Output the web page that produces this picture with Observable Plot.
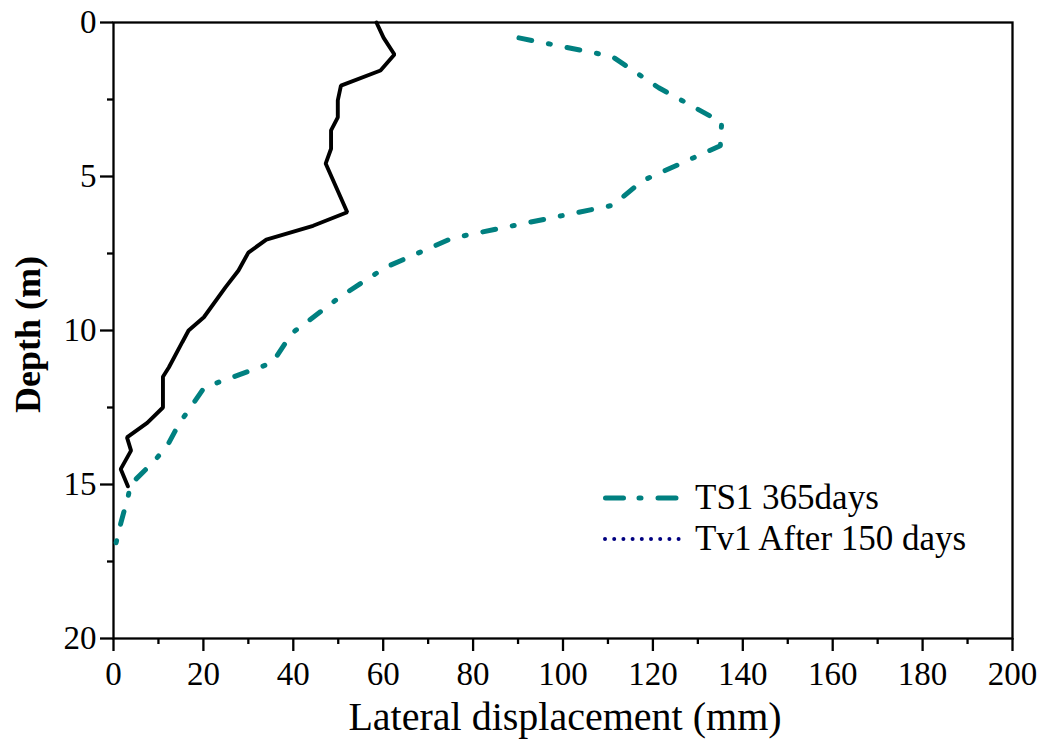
<!DOCTYPE html>
<html>
<head>
<meta charset="utf-8">
<script src="https://cdn.jsdelivr.net/npm/d3@7"></script>
<script src="https://cdn.jsdelivr.net/npm/@observablehq/plot@0.6"></script>
<style>
  html, body { margin: 0; padding: 0; background: #fff; }
  #wrap { position: relative; width: 1040px; height: 740px; }
  #legend { position: absolute; left: 0; top: 0; pointer-events: none; }
</style>
</head>
<body>
<div id="wrap"></div>
<script>
// Black solid profile (no legend entry)
const blackDisp  = [58.5, 60.1, 62.5, 59.4, 50.6, 49.9, 49.9, 48.4, 48.4, 47.2, 52.0, 44.4, 34.0, 30.0, 27.8, 24.9, 20.1, 16.7, 15.3, 12.3, 11.0, 11.0, 7.5, 3.0, 3.9, 1.6, 3.2];
const blackDepth = [0, 0.5, 1.04, 1.56, 2.05, 2.53, 3.08, 3.5, 4.1, 4.58, 6.16, 6.6, 7.05, 7.47, 8.05, 8.6, 9.57, 10.0, 10.38, 11.2, 11.5, 12.5, 13.0, 13.47, 13.9, 14.5, 15.06];

// TS1 365days (teal dash-dot)
const tealDisp  = [90.2, 110.9, 121.3, 135.3, 135.0, 117.5, 111.2, 75.4, 60.5, 50.5, 39.6, 35.4, 20.2, 14.5, 12.0, 9.3, 3.8, 3.3, 1.6, 0.4];
const tealDepth = [0.5, 1.1, 2.12, 3.24, 4.0, 5.15, 5.93, 7.0, 7.95, 8.9, 10.1, 11.04, 11.85, 13.05, 13.73, 14.2, 15.0, 15.36, 16.27, 17.0];

const xMajor = [0, 20, 40, 60, 80, 100, 120, 140, 160, 180, 200];
const xMinor = [10, 30, 50, 70, 90, 110, 130, 150, 170, 190];
const yMajor = [0, 5, 10, 15, 20];
const yMinor = [2.5, 7.5, 12.5, 17.5];

const legendLabels = ["TS1 365days", "Tv1 After 150 days"];

const black = blackDisp.map((v, i) => ({x: v, y: blackDepth[i]}));
const teal = tealDisp.map((v, i) => ({x: v, y: tealDepth[i]}));

const font = "'Liberation Serif', 'Times New Roman', Times, serif";

const chart = Plot.plot({
  width: 1040,
  height: 740,
  marginLeft: 113,
  marginRight: 28,
  marginTop: 22,
  marginBottom: 102,
  style: {fontFamily: font, fontSize: "33px", background: "#fff", color: "#000"},
  x: {domain: [0, 200]},
  y: {domain: [0, 20], reverse: true},
  marks: [
    Plot.axisX({ticks: xMajor, tickSize: 13, tickPadding: 10, strokeWidth: 2.3, fontSize: 33, label: null, tickFormat: d => String(d)}),
    Plot.axisX({ticks: xMinor, tickSize: 6, text: null, strokeWidth: 2.3, label: null}),
    Plot.axisY({ticks: yMajor, tickSize: 13, tickPadding: 4, strokeWidth: 2.3, fontSize: 33, label: null, tickFormat: d => String(d)}),
    Plot.axisY({ticks: yMinor, tickSize: 6, text: null, strokeWidth: 2.3, label: null}),
    Plot.frame({stroke: "#000", strokeWidth: 2.3}),
    Plot.line(black, {x: "x", y: "y", stroke: "#000", strokeWidth: 3.9, strokeLinejoin: "miter"}),
    Plot.line(teal, {x: "x", y: "y", stroke: "#008080", strokeWidth: 5, strokeDasharray: "13,17,2,17", strokeLinecap: "round"}),
    Plot.text(["Depth (m)"], {frameAnchor: "left", dx: -85, dy: 4, rotate: -90, textAnchor: "middle", lineAnchor: "middle", fontSize: 36, fontWeight: "bold"}),
    Plot.text(["Lateral displacement (mm)"], {frameAnchor: "bottom", dx: 2, dy: 79, textAnchor: "middle", lineAnchor: "middle", fontSize: 40})
  ]
});

const wrap = document.getElementById("wrap");
wrap.appendChild(chart);

// Legend overlay
const ns = "http://www.w3.org/2000/svg";
const lg = document.createElementNS(ns, "svg");
lg.setAttribute("id", "legend");
lg.setAttribute("width", 1040);
lg.setAttribute("height", 740);
const items = [
  {label: legendLabels[0], stroke: "#008080", width: 5, dash: "18,15.5,2,17", y: 498, x1: 605.5, x2: 679.5},
  {label: legendLabels[1], stroke: "#000080", width: 4, dash: "0,9.2", y: 539, x1: 605, x2: 679}
];
items.forEach(it => {
  const l = document.createElementNS(ns, "line");
  l.setAttribute("x1", it.x1); l.setAttribute("x2", it.x2);
  l.setAttribute("y1", it.y); l.setAttribute("y2", it.y);
  l.setAttribute("stroke", it.stroke);
  l.setAttribute("stroke-width", it.width);
  l.setAttribute("stroke-dasharray", it.dash);
  l.setAttribute("stroke-linecap", "round");
  lg.appendChild(l);
  const t = document.createElementNS(ns, "text");
  t.setAttribute("x", 695);
  t.setAttribute("y", it.y + 11);
  t.setAttribute("font-family", font);
  t.setAttribute("font-size", 35);
  t.setAttribute("fill", "#000");
  t.textContent = it.label;
  lg.appendChild(t);
});
wrap.appendChild(lg);
</script>
</body>
</html>
